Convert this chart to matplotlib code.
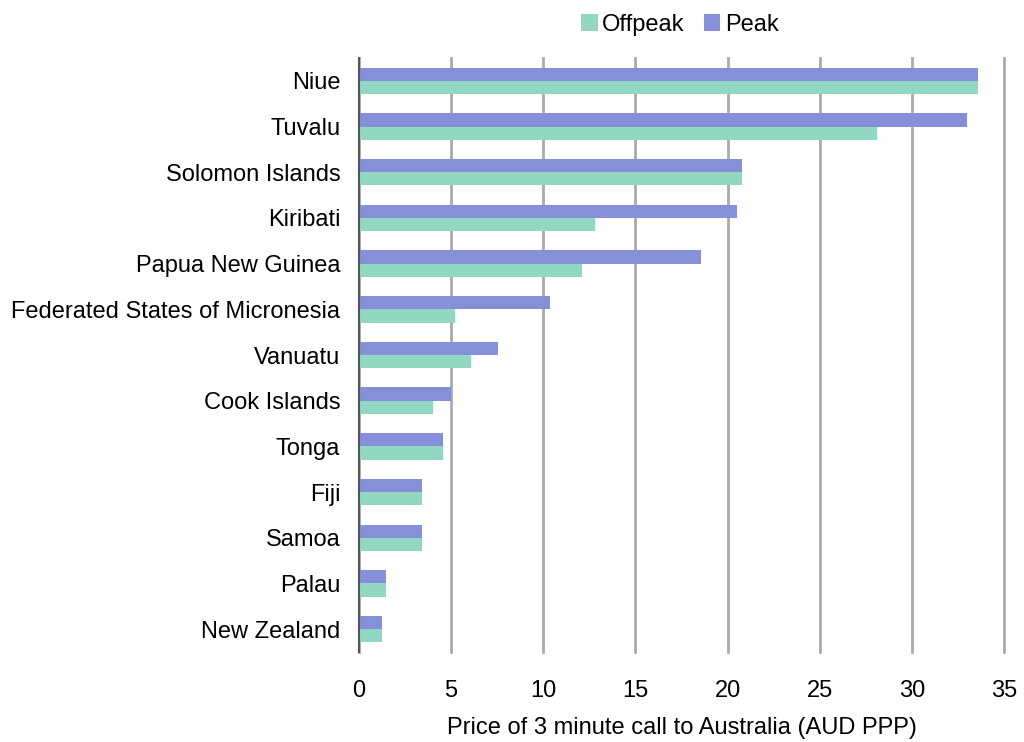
import matplotlib
matplotlib.use("Agg")
import matplotlib.pyplot as plt
import numpy as np

plt.rcParams['font.family'] = ['Liberation Sans', 'DejaVu Sans']

countries = ["Niue", "Tuvalu", "Solomon Islands", "Kiribati", "Papua New Guinea",
             "Federated States of Micronesia", "Vanuatu", "Cook Islands", "Tonga",
             "Fiji", "Samoa", "Palau", "New Zealand"]
offpeak = [33.6, 28.1, 20.8, 12.8, 12.1, 5.2, 6.1, 4.0, 4.55, 3.4, 3.4, 1.45, 1.25]
peak = [33.6, 33.0, 20.8, 20.5, 18.55, 10.35, 7.55, 5.0, 4.55, 3.4, 3.4, 1.45, 1.25]
xticks = [0, 5, 10, 15, 20, 25, 30, 35]

fig = plt.figure(figsize=(10.24, 7.42), dpi=100)
ax = fig.add_axes([0.3506, 0.1213, 0.6299, 0.8005])

n = len(countries)
y = np.arange(n)[::-1]
h = 0.29
c_off = "#92D7C1"
c_peak = "#8690D8"
ax.barh(y - h/2, offpeak, height=h, color=c_off, label="Offpeak", zorder=3)
ax.barh(y + h/2, peak, height=h, color=c_peak, label="Peak", zorder=3)

ax.set_ylim(-0.5, n - 0.5)
ax.set_xlim(0, 35)
ax.set_xticks(xticks)
ax.set_yticks(y)
ax.set_yticklabels(countries, fontsize=17)
ax.tick_params(axis='x', labelsize=17, length=0, pad=20)
ax.tick_params(axis='y', length=0, pad=13.5)
ax.xaxis.grid(True, color="#AAAAAA", linewidth=2, zorder=0)
for gl in ax.get_xgridlines():
    gl.set_clip_on(False)
ax.set_axisbelow(True)
for s in ["top", "right", "bottom"]:
    ax.spines[s].set_visible(False)
ax.spines["left"].set_color("#555555")
ax.spines["left"].set_linewidth(1.5)
ax.spines["left"].set_zorder(4)
ax.set_xlabel("Price of 3 minute call to Australia (AUD PPP)", fontsize=17, labelpad=11)

leg = fig.legend(loc="upper center", bbox_to_anchor=(0.664, 1.01), ncol=2, frameon=False,
                 fontsize=17, handlelength=0.7, handleheight=0.7, handletextpad=0.2,
                 columnspacing=0.8)

fig.savefig("out.png", dpi=100)
